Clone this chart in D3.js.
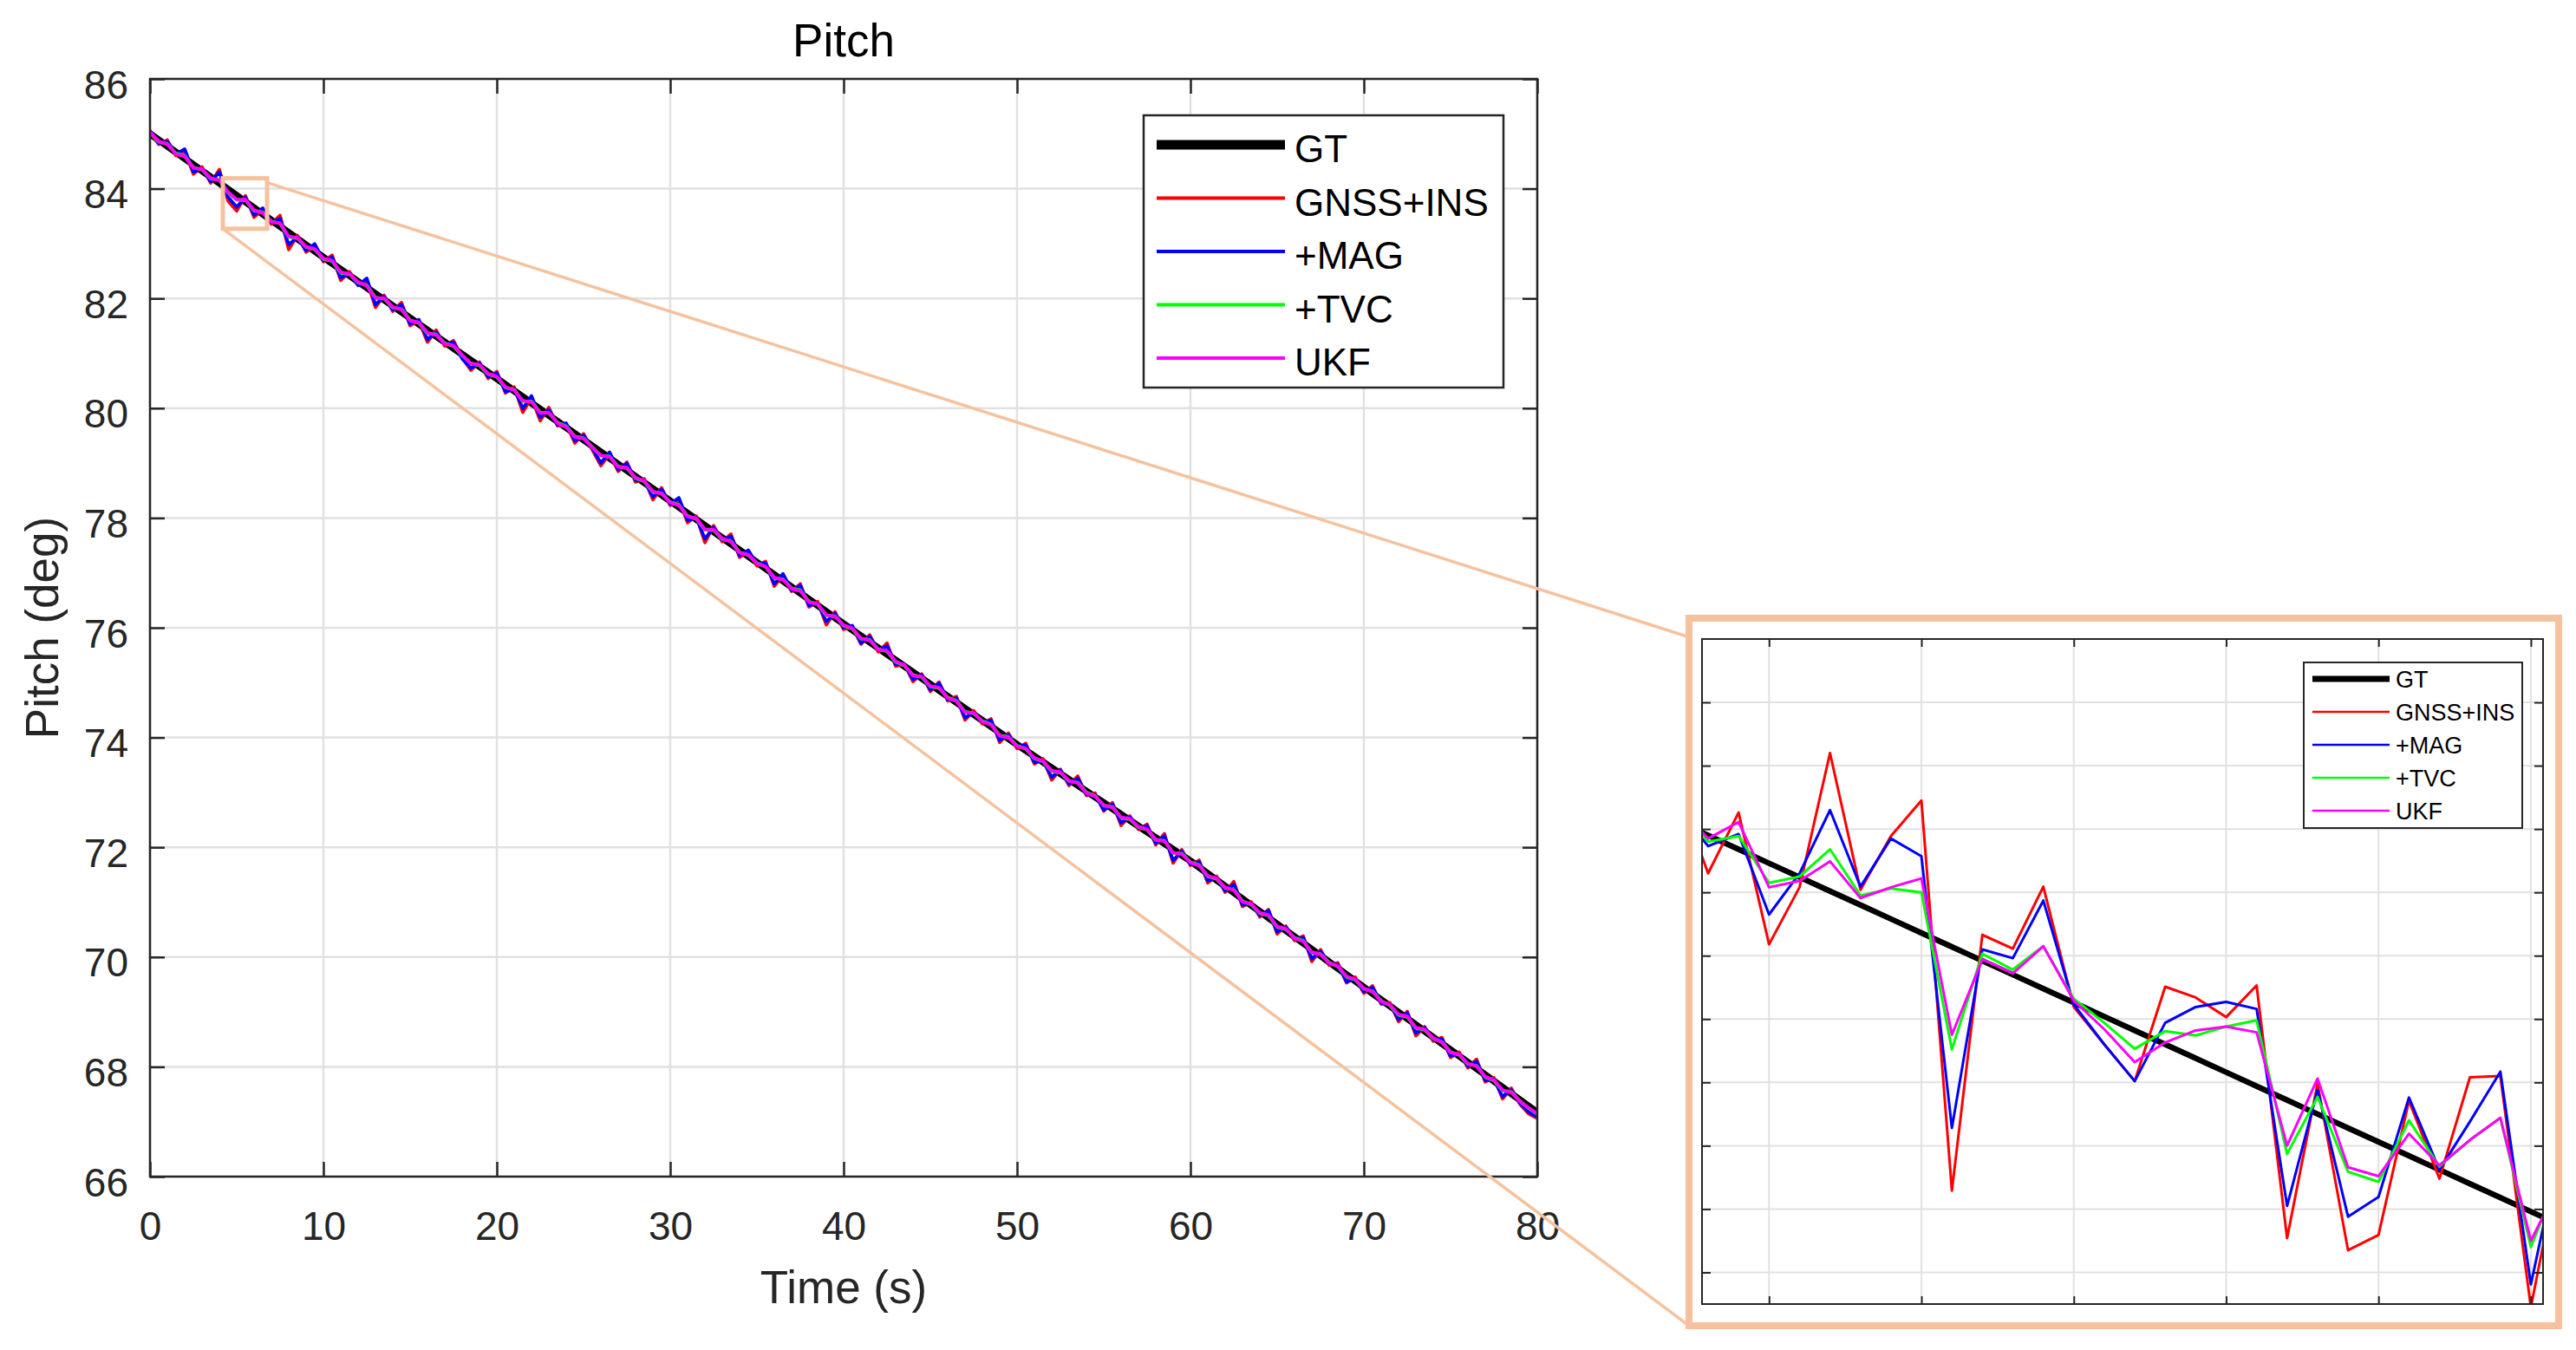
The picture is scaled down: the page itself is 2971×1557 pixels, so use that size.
<!DOCTYPE html>
<html><head><meta charset="utf-8">
<script src="https://cdn.jsdelivr.net/npm/d3@7"></script>
<style>body{margin:0;background:#fff} text{font-family:"Liberation Sans",Arial,Helvetica,sans-serif}</style>
</head><body>
<svg id="c" width="2971" height="1557" xmlns="http://www.w3.org/2000/svg"></svg>
<script>
// ---------------- data ----------------
const seriesNames  = ["GT", "GNSS+INS", "+MAG", "+TVC", "UKF"];
const seriesColors = ["#000000", "#ff0000", "#0000ff", "#00ff00", "#ff00ff"];
const xTickValues = [0, 10, 20, 30, 40, 50, 60, 70, 80];
const yTickValues = [66, 68, 70, 72, 74, 76, 78, 80, 82, 84, 86];

// ground truth pitch read at 10 s knots (deg)
const gtTime  = [0, 10, 20, 30, 40, 50, 60, 70, 80];
const gtPitch = [85.00, 82.75, 80.54, 78.31, 76.07, 73.87, 71.75, 69.45, 67.17];

// estimation error vs GT, every 0.5 s from 0 to 80 s (hundredths of a degree)
const errStep = 0.5;
const errGNSS = [4,-8,11,-6,14,-17,7,-11,25,-21, -28,11,-17,8,-7,20,-31,6,-13,10, -8,15,-20,7,-4,13,-25,8,-10,17,
  -14,6,-22,11,-7,14,-6,-18,8,-11, 13,-15,7,-28,10,-21,14,-8,6,-17, 11,-7,-25,8,-13,15,-10,7,-20,13,
  -8,14,-17,6,-31,11,-7,18,-13,8, -6,13,-21,10,-8,17,-14,7,-24,11, -10,6,-15,13,-7,20,-11,4,-17,8,
  -13,15,-8,11,-21,7,-6,14,-18,10, -7,13,-14,6,-22,8,-11,17,-8,7, -15,11,-20,8,-6,14,-13,18,-25,10,
  -8,13,-17,7,-11,20,-14,6,-10,15, -18,8,-7,13,-22,11,-6,10,-15,7, -11,14,-8,6,-17,13,-20,8,-7,11,
  -14,7,-10,17,-13,6,-21,10,-8,-14, -11];
const errMAG = [6,-6,8,-3,17,-13,4,-8,20,-14, -21,8,-13,11,-4,14,-22,3,-10,13, -6,11,-15,4,-7,17,-20,6,-7,13,
  -11,8,-17,7,-4,11,-8,-14,6,-8, 10,-13,4,-21,13,-15,10,-6,8,-13, 8,-4,-20,11,-10,13,-7,4,-15,10,
  -6,17,-13,3,-24,8,-4,14,-10,11, -3,10,-17,13,-6,14,-11,4,-18,8, -7,8,-13,10,-4,15,-8,3,-13,6,
  -10,13,-6,8,-17,4,-3,11,-14,7, -4,10,-11,3,-17,7,-8,13,-6,4, -13,8,-15,6,-4,11,-10,14,-20,7,
  -6,10,-13,4,-8,15,-11,3,-7,13, -14,6,-4,10,-17,8,-3,7,-13,4, -8,11,-6,3,-13,10,-15,6,-4,8,
  -11,4,-7,13,-10,3,-17,7,-6,-11, -8];
const errTVC = [2,-3,4,-2,5,-5,2,-3,6,-6, -8,3,-5,3,-2,5,-8,1,-4,3, -3,4,-6,2,-2,4,-7,2,-3,5,
  -4,2,-6,3,-2,4,-2,-5,2,-3, 3,-5,2,-8,3,-6,4,-2,2,-5, 3,-2,-7,3,-4,4,-3,2,-6,3,
  -2,4,-5,1,-8,3,-2,5,-4,2, -1,3,-6,3,-2,5,-4,2,-7,3, -3,2,-5,4,-2,5,-3,1,-5,2,
  -4,4,-2,3,-6,2,-1,4,-5,3, -2,3,-4,1,-6,2,-3,5,-2,2, -5,3,-6,2,-2,4,-4,5,-7,3,
  -2,4,-5,2,-3,5,-4,1,-3,4, -5,2,-2,4,-6,3,-1,3,-4,2, -3,4,-2,1,-5,3,-6,2,-2,3,
  -4,2,-3,5,-4,1,-6,3,-2,-4, -3];
const errUKF = [3,-2,3,-3,4,-6,3,-2,5,-5, -7,4,-4,2,-3,6,-7,2,-3,4, -2,5,-5,3,-1,3,-8,3,-2,4,
  -5,3,-5,2,-3,5,-1,-6,3,-2, 4,-4,1,-7,2,-7,5,-3,1,-6, 2,-3,-6,2,-5,5,-2,3,-5,2,
  -3,3,-6,2,-7,4,-1,4,-5,3, -2,4,-5,2,-3,4,-5,3,-6,2, -2,3,-4,3,-3,6,-2,2,-6,3,
  -3,5,-3,2,-7,3,-2,3,-6,2, -3,4,-3,2,-5,3,-2,4,-3,1, -4,2,-5,3,-1,5,-3,4,-6,2,
  -3,3,-4,3,-2,4,-5,2,-2,5, -4,3,-3,3,-5,2,-2,4,-3,3, -2,3,-3,2,-4,4,-5,3,-1,2,
  -5,3,-2,4,-3,2,-5,2,-3,-3, -2];

// zoomed window (inset), samples every 0.1 s from 4.2 to 7.1 s (deg)
const insetTime  = [4.2,4.3,4.4,4.5,4.6,4.7,4.8,4.9,5.0,5.1,5.2,5.3,5.4,5.5,5.6,5.7,5.8,5.9,6.0,6.1,6.2,6.3,6.4,6.5,6.6,6.7,6.8,6.9,7.0,7.1];
const insetGT    = [84.012,83.990,83.968,83.946,83.924,83.902,83.880,83.858,83.836,83.814,83.792,83.770,83.748,83.726,83.704,83.682,83.660,83.638,83.616,83.594,83.572,83.550,83.528,83.506,83.484,83.462,83.440,83.418,83.396,83.374];
const insetGNSS  = [84.063,83.930,84.026,83.818,83.908,84.120,83.904,83.989,84.045,83.429,83.833,83.811,83.909,83.719,83.660,83.602,83.751,83.734,83.703,83.753,83.354,83.598,83.335,83.359,83.571,83.448,83.608,83.610,83.245,83.488];
const insetMAG   = [84.034,83.973,83.992,83.865,83.930,84.030,83.909,83.985,83.957,83.528,83.810,83.796,83.887,83.723,83.660,83.602,83.694,83.719,83.727,83.716,83.405,83.588,83.388,83.419,83.576,83.462,83.538,83.617,83.281,83.505];
const insetTVC   = [84.032,83.980,83.989,83.915,83.925,83.968,83.895,83.906,83.900,83.652,83.803,83.778,83.815,83.732,83.694,83.653,83.681,83.674,83.688,83.698,83.487,83.577,83.459,83.443,83.540,83.467,83.509,83.544,83.340,83.460];
const insetUKF   = [84.037,83.985,84.011,83.908,83.918,83.949,83.891,83.908,83.922,83.675,83.794,83.772,83.815,83.729,83.684,83.632,83.663,83.682,83.688,83.679,83.500,83.606,83.466,83.452,83.519,83.469,83.509,83.544,83.350,83.445];
const insetXDomain = [4.28, 7.04];
const insetYDomain = [83.25, 84.30];
const insetXTicks = [4.5, 5.0, 5.5, 6.0, 6.5, 7.0];
const insetYTicks = [83.3, 83.4, 83.5, 83.6, 83.7, 83.8, 83.9, 84.0, 84.1, 84.2];
// box marked on the main plot
const zoomBoxTime  = [4.2, 6.75];
const zoomBoxPitch = [83.27, 84.19];

// ---------------- layout ----------------
const svg = d3.select("#c");
const M = {l: 173, r: 1773, t: 91, b: 1357};
const I = {l: 1963, r: 2933, t: 737, b: 1504};
const OB = {x: 1948, y: 713, w: 1003, h: 816};
const INK = "#262626", GRID = "#e1e1e1", PEACH = "#f6c29d";

const x = d3.scaleLinear().domain([0, 80]).range([M.l, M.r]);
const y = d3.scaleLinear().domain([66, 86]).range([M.b, M.t]);
const xi = d3.scaleLinear().domain(insetXDomain).range([I.l, I.r]);
const yi = d3.scaleLinear().domain(insetYDomain).range([I.b, I.t]);

const gtAt = d3.scaleLinear().domain(gtTime).range(gtPitch);
const mainTime = errGNSS.map((_, i) => i * errStep);
const errs = [errGNSS, errMAG, errTVC, errUKF];
const mainSeries = [gtTime.map((t, i) => [t, gtPitch[i]])]
  .concat(errs.map(e => mainTime.map((t, i) => [t, gtAt(t) + e[i] / 100])));
const insetSeries = [insetGT, insetGNSS, insetMAG, insetTVC, insetUKF]
  .map(v => insetTime.map((t, i) => [t, v[i]]));

const defs = svg.append("defs");
defs.append("clipPath").attr("id", "cm").append("rect")
  .attr("x", M.l).attr("y", M.t).attr("width", M.r - M.l).attr("height", M.b - M.t);
defs.append("clipPath").attr("id", "ci").append("rect")
  .attr("x", I.l).attr("y", I.t).attr("width", I.r - I.l).attr("height", I.b - I.t);

// ---------------- main plot ----------------
const gm = svg.append("g");
gm.append("rect").attr("x", M.l).attr("y", M.t).attr("width", M.r - M.l).attr("height", M.b - M.t).attr("fill", "#fff");
gm.append("g").selectAll("line").data(xTickValues).join("line")
  .attr("x1", d => x(d)).attr("x2", d => x(d)).attr("y1", M.t).attr("y2", M.b)
  .attr("stroke", GRID).attr("stroke-width", 2.5);
gm.append("g").selectAll("line").data(yTickValues).join("line")
  .attr("y1", d => y(d)).attr("y2", d => y(d)).attr("x1", M.l).attr("x2", M.r)
  .attr("stroke", GRID).attr("stroke-width", 2.5);

const lineM = d3.line().x(d => x(d[0])).y(d => y(d[1]));
const gl = gm.append("g").attr("clip-path", "url(#cm)");
mainSeries.forEach((s, k) => {
  gl.append("path").datum(s).attr("d", lineM).attr("fill", "none")
    .attr("stroke", seriesColors[k]).attr("stroke-width", k === 0 ? 8 : 3.8)
    .attr("stroke-linejoin", "round");
});

function styleAxis(g, fs) {
  g.select(".domain").remove();
  g.selectAll(".tick line").attr("stroke", INK).attr("stroke-width", 2.5);
  g.selectAll(".tick text").attr("fill", INK).attr("font-size", fs)
    .attr("font-family", '"Liberation Sans", Arial, sans-serif');
  g.attr("font-family", null).attr("font-size", null);
}
const ax1 = gm.append("g").attr("transform", `translate(0,${M.b})`)
  .call(d3.axisBottom(x).tickValues(xTickValues).tickSizeInner(-17).tickSizeOuter(0).tickPadding(40));
styleAxis(ax1, 46);
const ax2 = gm.append("g").attr("transform", `translate(${M.l},0)`)
  .call(d3.axisLeft(y).tickValues(yTickValues).tickSizeInner(-17).tickSizeOuter(0).tickPadding(25));
styleAxis(ax2, 46);
ax2.selectAll(".tick text").attr("dy", "0.48em");
const ax3 = gm.append("g").attr("transform", `translate(0,${M.t})`)
  .call(d3.axisTop(x).tickValues(xTickValues).tickSizeInner(-17).tickSizeOuter(0).tickFormat(""));
styleAxis(ax3, 46);
const ax4 = gm.append("g").attr("transform", `translate(${M.r},0)`)
  .call(d3.axisRight(y).tickValues(yTickValues).tickSizeInner(-17).tickSizeOuter(0).tickFormat(""));
styleAxis(ax4, 46);
gm.append("rect").attr("x", M.l).attr("y", M.t).attr("width", M.r - M.l).attr("height", M.b - M.t)
  .attr("fill", "none").attr("stroke", INK).attr("stroke-width", 2.5);

gm.append("text").attr("x", (M.l + M.r) / 2).attr("y", 65).attr("text-anchor", "middle")
  .attr("font-size", 53).attr("fill", "#000").text("Pitch");
gm.append("text").attr("x", (M.l + M.r) / 2).attr("y", 1503).attr("text-anchor", "middle")
  .attr("font-size", 53).attr("fill", INK).text("Time (s)");
gm.append("text").attr("transform", `translate(67,${(M.t + M.b) / 2}) rotate(-90)`)
  .attr("text-anchor", "middle").attr("font-size", 53).attr("fill", INK).text("Pitch (deg)");

// main legend
const LG = {x: 1319, y: 133, w: 415, h: 314, y0: 167, dy: 61.5, lx0: 1334, lx1: 1482, tx: 1493};
const lg = gm.append("g");
lg.append("rect").attr("x", LG.x).attr("y", LG.y).attr("width", LG.w).attr("height", LG.h)
  .attr("fill", "#fff").attr("stroke", INK).attr("stroke-width", 2.5);
const le = lg.selectAll("g.e").data(seriesNames).join("g").attr("class", "e");
le.append("line").attr("x1", LG.lx0).attr("x2", LG.lx1)
  .attr("y1", (d, i) => LG.y0 + i * LG.dy).attr("y2", (d, i) => LG.y0 + i * LG.dy)
  .attr("stroke", (d, i) => seriesColors[i]).attr("stroke-width", (d, i) => i === 0 ? 11 : 4);
le.append("text").attr("x", LG.tx).attr("y", (d, i) => LG.y0 + i * LG.dy + 20)
  .attr("font-size", 44).attr("fill", "#000").text(d => d);

// zoom box on main plot + connectors
const bx0 = x(zoomBoxTime[0]), bx1 = x(zoomBoxTime[1]);
const by0 = y(zoomBoxPitch[1]), by1 = y(zoomBoxPitch[0]);
svg.append("line").attr("x1", bx1).attr("y1", by0 + 5).attr("x2", I.l - 8).attr("y2", I.t)
  .attr("stroke", PEACH).attr("stroke-width", 3.5);
svg.append("line").attr("x1", bx0).attr("y1", by1).attr("x2", OB.x).attr("y2", OB.y + OB.h)
  .attr("stroke", PEACH).attr("stroke-width", 3.5);
svg.append("rect").attr("x", bx0).attr("y", by0).attr("width", bx1 - bx0).attr("height", by1 - by0)
  .attr("fill", "none").attr("stroke", PEACH).attr("stroke-width", 5);

// ---------------- inset ----------------
const gi = svg.append("g");
gi.append("rect").attr("x", OB.x).attr("y", OB.y).attr("width", OB.w).attr("height", OB.h)
  .attr("fill", "#fff").attr("stroke", PEACH).attr("stroke-width", 8);
gi.append("g").selectAll("line").data(insetXTicks).join("line")
  .attr("x1", d => xi(d)).attr("x2", d => xi(d)).attr("y1", I.t).attr("y2", I.b)
  .attr("stroke", GRID).attr("stroke-width", 2);
gi.append("g").selectAll("line").data(insetYTicks).join("line")
  .attr("y1", d => yi(d)).attr("y2", d => yi(d)).attr("x1", I.l).attr("x2", I.r)
  .attr("stroke", GRID).attr("stroke-width", 2);
const lineI = d3.line().x(d => xi(d[0])).y(d => yi(d[1]));
const gil = gi.append("g").attr("clip-path", "url(#ci)");
insetSeries.forEach((s, k) => {
  gil.append("path").datum(s).attr("d", lineI).attr("fill", "none")
    .attr("stroke", seriesColors[k]).attr("stroke-width", k === 0 ? 6.5 : 3)
    .attr("stroke-linejoin", "round");
});
function insetAxis(g) {
  g.select(".domain").remove();
  g.selectAll(".tick line").attr("stroke", INK).attr("stroke-width", 2);
  g.selectAll(".tick text").remove();
}
insetAxis(gi.append("g").attr("transform", `translate(0,${I.b})`)
  .call(d3.axisBottom(xi).tickValues(insetXTicks).tickSizeInner(-9).tickSizeOuter(0)));
insetAxis(gi.append("g").attr("transform", `translate(0,${I.t})`)
  .call(d3.axisTop(xi).tickValues(insetXTicks).tickSizeInner(-9).tickSizeOuter(0)));
insetAxis(gi.append("g").attr("transform", `translate(${I.l},0)`)
  .call(d3.axisLeft(yi).tickValues(insetYTicks).tickSizeInner(-10).tickSizeOuter(0)));
insetAxis(gi.append("g").attr("transform", `translate(${I.r},0)`)
  .call(d3.axisRight(yi).tickValues(insetYTicks).tickSizeInner(-10).tickSizeOuter(0)));
gi.append("rect").attr("x", I.l).attr("y", I.t).attr("width", I.r - I.l).attr("height", I.b - I.t)
  .attr("fill", "none").attr("stroke", INK).attr("stroke-width", 2);

// inset legend
const IL = {x: 2657, y: 764, w: 252, h: 191, y0: 783, dy: 38, lx0: 2667, lx1: 2756, tx: 2763};
const il = gi.append("g");
il.append("rect").attr("x", IL.x).attr("y", IL.y).attr("width", IL.w).attr("height", IL.h)
  .attr("fill", "#fff").attr("stroke", INK).attr("stroke-width", 2);
const ie = il.selectAll("g.e").data(seriesNames).join("g").attr("class", "e");
ie.append("line").attr("x1", IL.lx0).attr("x2", IL.lx1)
  .attr("y1", (d, i) => IL.y0 + i * IL.dy).attr("y2", (d, i) => IL.y0 + i * IL.dy)
  .attr("stroke", (d, i) => seriesColors[i]).attr("stroke-width", (d, i) => i === 0 ? 7 : 2.5);
ie.append("text").attr("x", IL.tx).attr("y", (d, i) => IL.y0 + i * IL.dy + 10)
  .attr("font-size", 27).attr("fill", "#000").text(d => d);
</script>
</body></html>
